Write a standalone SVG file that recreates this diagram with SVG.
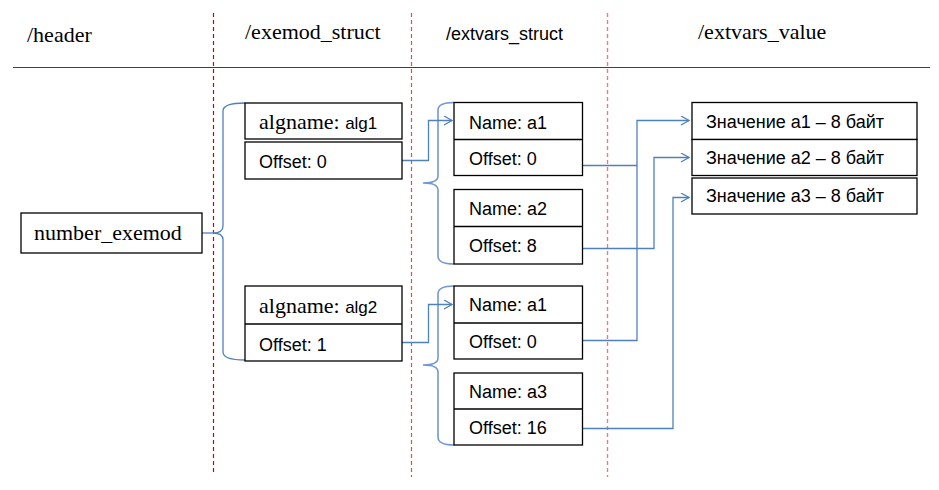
<svg xmlns="http://www.w3.org/2000/svg" width="939" height="490" viewBox="0 0 939 490">
<defs>
<marker id="arr" markerUnits="userSpaceOnUse" markerWidth="12" markerHeight="12" refX="9" refY="5" orient="auto">
<path d="M1,0.5 L9,5 L1,9.5" fill="none" stroke="#4f81bd" stroke-width="1.3"/>
</marker>
<style>
.box{fill:#fff;stroke:#000;stroke-width:1.3}
.div{stroke:#000;stroke-width:1.3}
.serif{font-family:"Liberation Serif","Times New Roman",serif;font-size:22px;fill:#000}
.sans{font-family:"Liberation Sans",Arial,sans-serif;font-size:18px;fill:#000}
.conn{fill:none;stroke:#4f81bd;stroke-width:1.3}
.brace{fill:none;stroke:#7199cf;stroke-width:1.6}
.dash1{stroke:#d40000;stroke-width:1.2;stroke-dasharray:4 3}
.dash2{stroke:#f04848;stroke-width:1.2;stroke-dasharray:4 3}
.dash3{stroke:#f47a7a;stroke-width:1.4;stroke-dasharray:4 3}
</style>
</defs>
<rect width="939" height="490" fill="#fff"/>

<g id="grid">
<line x1="13" y1="67.5" x2="930" y2="67.5" stroke="#d80000" stroke-width="1.2"/>
<line class="dash1" x1="213.5" y1="13" x2="213.5" y2="473"/>
<line class="dash2" x1="411.5" y1="13" x2="411.5" y2="477"/>
<line class="dash3" x1="607.5" y1="13" x2="607.5" y2="477"/>
</g>

<g id="headers">
<text class="serif" x="27" y="42">/header</text>
<text class="serif" x="245" y="39">/exemod_struct</text>
<text class="sans" x="446" y="40">/extvars_struct</text>
<text class="serif" x="698" y="39">/extvars_value</text>
</g>

<g id="connectors">
<path class="conn" d="M202,233 H213"/>
<path class="conn" d="M245,103 Q223,103 223,111 V226 Q223,233 213,233 Q223,233 223,240 V352 Q223,360 245,360"/>
<path class="brace" d="M454,102.5 Q438,102.5 438,110 V176 Q438,183 423,183 Q438,183 438,190 V256 Q438,264 454,264"/>
<path class="brace" d="M454,286 Q438,286 438,294 V358 Q438,365 423,365 Q438,365 438,372 V437 Q438,445 454,445"/>
<path class="conn" d="M402,160.5 H428.5 V120.5 H452" marker-end="url(#arr)"/>
<path class="conn" d="M402,342.5 H428.5 V304.5 H452" marker-end="url(#arr)"/>
<path class="conn" d="M582.5,165.5 H637"/>
<path class="conn" d="M582.5,340.5 H637 V120.5 H689" marker-end="url(#arr)"/>
<path class="conn" d="M582.5,248.5 H654 V157.5 H689" marker-end="url(#arr)"/>
<path class="conn" d="M582.5,428.5 H673 V197.5 H689" marker-end="url(#arr)"/>
</g>

<g id="number_exemod">
<rect class="box" x="21" y="213" width="181" height="40"/>
<text class="serif" x="34" y="240">number_exemod</text>
</g>

<g id="exemod1">
<rect class="box" x="245" y="103" width="157" height="36"/>
<text x="259" y="129"><tspan class="serif">algname: </tspan><tspan class="sans" style="font-size:17px">alg1</tspan></text>
<rect class="box" x="245" y="142" width="157" height="37"/>
<text class="sans" x="259" y="168">Offset: 0</text>
</g>

<g id="exemod2">
<rect class="box" x="245" y="286" width="157" height="75"/>
<line class="div" x1="245" y1="324" x2="402" y2="324"/>
<text x="259" y="313"><tspan class="serif">algname: </tspan><tspan class="sans" style="font-size:17px">alg2</tspan></text>
<text class="sans" x="259" y="351">Offset: 1</text>
</g>

<g id="ext_a1_1">
<rect class="box" x="454" y="102.5" width="128.5" height="73"/>
<line class="div" x1="454" y1="139.5" x2="582.5" y2="139.5"/>
<text class="sans" x="469" y="129">Name: a1</text>
<text class="sans" x="469" y="165">Offset: 0</text>
</g>

<g id="ext_a2">
<rect class="box" x="454" y="189.5" width="128.5" height="74.5"/>
<line class="div" x1="454" y1="226.5" x2="582.5" y2="226.5"/>
<text class="sans" x="469" y="215">Name: a2</text>
<text class="sans" x="469" y="252">Offset: 8</text>
</g>

<g id="ext_a1_2">
<rect class="box" x="454" y="286" width="128.5" height="73"/>
<line class="div" x1="454" y1="323" x2="582.5" y2="323"/>
<text class="sans" x="469" y="311">Name: a1</text>
<text class="sans" x="469" y="348">Offset: 0</text>
</g>

<g id="ext_a3">
<rect class="box" x="454" y="373" width="128.5" height="72"/>
<line class="div" x1="454" y1="409" x2="582.5" y2="409"/>
<text class="sans" x="469" y="398">Name: a3</text>
<text class="sans" x="469" y="434">Offset: 16</text>
</g>

<g id="value_a1">
<rect class="box" x="692" y="102.5" width="225" height="37"/>
<text class="sans" x="706" y="128">Значение a1 – 8 байт</text>
</g>
<g id="value_a2">
<rect class="box" x="692" y="139.5" width="225" height="36"/>
<text class="sans" x="706" y="164">Значение a2 – 8 байт</text>
</g>
<g id="value_a3">
<rect class="box" x="692" y="178" width="225" height="36"/>
<text class="sans" x="706" y="202">Значение a3 – 8 байт</text>
</g>
</svg>
